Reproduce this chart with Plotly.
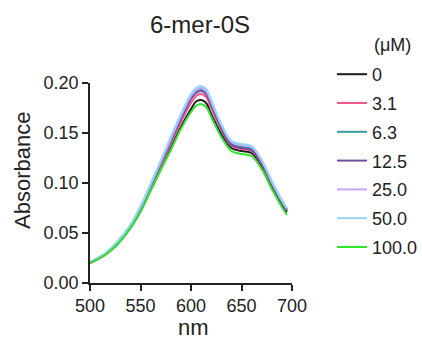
import plotly.graph_objects as go

wavelength = [500, 510, 520, 530, 540, 550, 560, 570, 580, 590, 600, 605, 610, 615, 620, 630, 640, 650, 660, 670, 680, 690, 695]

abs_0 =    [0.020, 0.025, 0.032, 0.042, 0.055, 0.072, 0.093, 0.114, 0.135, 0.156, 0.174, 0.1815, 0.183, 0.180, 0.169, 0.149, 0.135, 0.132, 0.130, 0.117, 0.097, 0.079, 0.071]
abs_3_1 =  [0.020, 0.025, 0.032, 0.043, 0.056, 0.073, 0.095, 0.117, 0.139, 0.161, 0.180, 0.187, 0.189, 0.186, 0.175, 0.153, 0.137, 0.134, 0.132, 0.119, 0.099, 0.081, 0.073]
abs_6_3 =  [0.021, 0.026, 0.033, 0.044, 0.057, 0.075, 0.097, 0.120, 0.143, 0.165, 0.185, 0.192, 0.194, 0.191, 0.179, 0.156, 0.139, 0.136, 0.134, 0.121, 0.101, 0.082, 0.074]
abs_12_5 = [0.021, 0.026, 0.033, 0.044, 0.057, 0.074, 0.096, 0.119, 0.142, 0.164, 0.184, 0.190, 0.192, 0.189, 0.178, 0.155, 0.138, 0.135, 0.133, 0.120, 0.100, 0.081, 0.073]
abs_25 =   [0.021, 0.026, 0.033, 0.044, 0.058, 0.076, 0.098, 0.121, 0.144, 0.167, 0.187, 0.193, 0.195, 0.192, 0.181, 0.158, 0.141, 0.138, 0.136, 0.122, 0.101, 0.082, 0.074]
abs_50 =   [0.021, 0.026, 0.034, 0.045, 0.058, 0.077, 0.099, 0.122, 0.146, 0.169, 0.189, 0.195, 0.197, 0.194, 0.183, 0.159, 0.142, 0.139, 0.137, 0.123, 0.102, 0.083, 0.075]
abs_100 =  [0.020, 0.025, 0.032, 0.042, 0.055, 0.071, 0.092, 0.113, 0.133, 0.154, 0.171, 0.177, 0.179, 0.176, 0.166, 0.146, 0.132, 0.129, 0.127, 0.114, 0.094, 0.076, 0.068]

series_names = ["0", "3.1", "6.3", "12.5", "25.0", "50.0", "100.0"]
series_values = [abs_0, abs_3_1, abs_6_3, abs_12_5, abs_25, abs_50, abs_100]
series_colors = ["#1a1a1a", "#f5568a", "#3b9a9c", "#6f509e", "#c9a3f7", "#93d4f8", "#2ee52e"]

x_ticks = [500, 550, 600, 650, 700]
y_ticks = [0.00, 0.05, 0.10, 0.15, 0.20]

FONT = "Arial, Liberation Sans, Helvetica, sans-serif"

fig = go.Figure()
for i, (name, vals, col) in enumerate(zip(series_names, series_values, series_colors)):
    fig.add_trace(go.Scatter(
        x=wavelength, y=vals, name=name, mode="lines",
        line=dict(color=col, width=2, shape="spline"),
        legendgroup=name,
    ))

axis_common = dict(
    showline=True, linecolor="#222", linewidth=1.6,
    ticks="outside", ticklen=6, tickwidth=1.6, tickcolor="#222",
    showgrid=False, zeroline=False,
    tickfont=dict(family=FONT, size=18, color="#222"),
)

fig.update_layout(
    width=422, height=342,
    margin=dict(l=90, r=130, t=83, b=59, autoexpand=False),
    paper_bgcolor="white", plot_bgcolor="white",
    font=dict(family=FONT, color="#222"),
    xaxis=dict(range=[500, 700], tickvals=x_ticks, ticktext=[str(v) for v in x_ticks], **axis_common),
    yaxis=dict(range=[0, 0.2], tickvals=y_ticks, ticktext=[f"{v:.2f}" for v in y_ticks], **axis_common),
    showlegend=True,
    legend=dict(
        x=(332 - 90) / 202, xanchor="left",
        y=1 + (83 - 56) / 200, yanchor="top",
        font=dict(family=FONT, size=18, color="#222"),
        tracegroupgap=2.4, bgcolor="rgba(0,0,0,0)", borderwidth=0,
        maxheight=330,
    ),
    annotations=[
        dict(text="6-mer-0S", xref="paper", yref="paper", x=(200 - 90) / 202, y=1 + (83 - 25) / 200,
             xanchor="center", yanchor="middle", showarrow=False, font=dict(family=FONT, size=24, color="#222")),
        dict(text="(μM)", xref="paper", yref="paper", x=(372 - 90) / 202, y=1 + (83 - 45) / 200,
             xanchor="left", yanchor="middle", showarrow=False, font=dict(family=FONT, size=18, color="#222")),
        dict(text="nm", xref="paper", yref="paper", x=(193 - 90) / 202, y=-(327 - 283) / 200,
             xanchor="center", yanchor="middle", showarrow=False, font=dict(family=FONT, size=22, color="#222")),
        dict(text="Absorbance", xref="paper", yref="paper", x=-(90 - 22) / 202, y=(283 - 171) / 200,
             xanchor="center", yanchor="middle", textangle=-90, showarrow=False, font=dict(family=FONT, size=22, color="#222")),
    ],
)

fig.write_html("out.html", config={"displayModeBar": False},
               post_script="document.body.style.margin='0';document.body.style.overflow='hidden';")
